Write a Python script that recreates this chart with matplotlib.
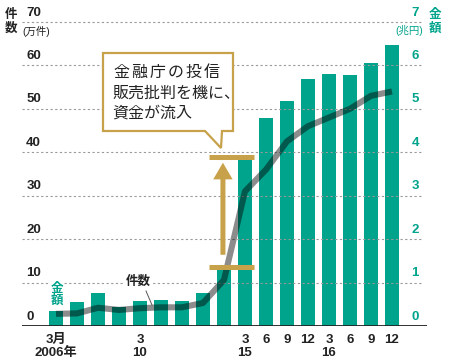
import matplotlib.pyplot as plt
import matplotlib.patches as mpatches

plt.rcParams['font.family'] = ['Liberation Sans Narrow', 'Liberation Sans', 'Noto Sans CJK JP']

# data: 投信の件数 (万件) と 金額 (兆円)
periods = ['2006/3', '2007/3', '2008/3', '2009/3', '2010/3', '2011/3', '2012/3',
           '2013/3', '2014/3', '2015/3', '2015/6', '2015/9', '2015/12',
           '2016/3', '2016/6', '2016/9', '2016/12']
tick_labels = ['3月\n2006年', '', '', '', '3\n10', '', '', '', '',
               '3\n15', '6', '9', '12', '3\n16', '6', '9', '12']
amount = [0.35, 0.56, 0.75, 0.43, 0.58, 0.60, 0.58, 0.77, 1.31,
          3.83, 4.78, 5.19, 5.69, 5.81, 5.78, 6.05, 6.46]
count = [2.8, 2.9, 4.2, 3.7, 4.1, 4.3, 4.3, 5.3, 10.6,
         31, 36, 42.5, 46, 48, 50, 53, 54]
count_ticks = [0, 10, 20, 30, 40, 50, 60, 70]
amount_ticks = [0, 1, 2, 3, 4, 5, 6, 7]

TEAL = '#00a38b'
GOLD = '#c8a24a'
DARK = '#222222'
W, H = 450, 362


def px(x, y):
    """pixel position (from top-left) -> figure fraction"""
    return x / W, 1 - y / H


fig = plt.figure(figsize=(W / 100, H / 100), dpi=100)
ax = fig.add_axes([22 / W, 36 / H, 405 / W, 304 / H])
ax2 = ax.twinx()

xs = list(range(len(periods)))

# bars (amount, right scale)
ax.bar(xs, amount, width=0.67, color=TEAL, zorder=2)
ax.set_ylim(0, 7)
ax.set_xlim(-1.62, 17.67)

# line (count, left scale)
ax2.plot(xs, count, color='black', alpha=0.45, lw=4.4,
         solid_joinstyle='round', solid_capstyle='butt', zorder=3)
ax2.set_ylim(0, 70)

for a in (ax, ax2):
    for s in a.spines.values():
        s.set_visible(False)
    a.set_yticks([])
ax.tick_params(axis='x', length=0, pad=5.5)
ax.set_xticks(xs, tick_labels, fontsize=9.5, fontweight='bold',
              color=DARK, linespacing=1.15)

# grid and baseline
for v in count_ticks[1:]:
    ax2.axhline(v, color='#9a9a9a', lw=0.8, ls=(0, (2, 2.2)), zorder=0,
                clip_on=False, xmax=0.99)
ax2.axhline(0, color=DARK, lw=1.3, zorder=4)

# tick labels placed above the gridlines
for v in count_ticks:
    ax2.annotate(str(v), xy=(0, v), xycoords=('axes fraction', 'data'),
                 xytext=(3, 2.5), textcoords='offset points',
                 ha='left', va='bottom', fontsize=9.5, fontweight='bold',
                 color=DARK)
for v in amount_ticks:
    ax.annotate(str(v), xy=(0.98, v), xycoords=('axes fraction', 'data'),
                xytext=(0, 2.5), textcoords='offset points',
                ha='right', va='bottom', fontsize=9.5, fontweight='bold',
                color=TEAL)

# axis titles
fig.text(*px(11, 22), '件\n数', ha='center', va='center', fontsize=9,
         fontweight='bold', color=DARK, linespacing=1.1)
fig.text(*px(22, 31), '(万件)', ha='left', va='center', fontsize=7.5,
         color=DARK)
fig.text(*px(435, 22), '金\n額', ha='center', va='center', fontsize=9,
         fontweight='bold', color=TEAL, linespacing=1.1)
fig.text(*px(423, 31), '(兆円)', ha='right', va='center', fontsize=7.5,
         color=TEAL)

# series labels
fig.text(*px(57, 295), '金\n額', ha='center', va='center', fontsize=9,
         fontweight='bold', color=TEAL, linespacing=1.0,
         bbox=dict(fc='white', ec='none', pad=0.5), zorder=5)
fig.text(*px(138, 282), '件数', ha='center', va='center', fontsize=9,
         fontweight='bold', color=DARK,
         bbox=dict(fc='white', ec='none', pad=0.5), zorder=5)
fig.add_artist(plt.Line2D([146 / W, 152 / W], [1 - 291 / H, 1 - 305 / H],
                          color='#555555', lw=0.7))

# callout box
pts = [(103, 53), (233, 53), (233, 131), (222, 131), (221, 148),
       (205, 131), (103, 131)]
box = mpatches.Polygon([px(x, y) for x, y in pts], closed=True,
                       transform=fig.transFigure, fc='white', ec=GOLD,
                       lw=1.6, zorder=6)
fig.add_artist(box)
# first line is letter-spaced in the original
for i, ch in enumerate('金融庁の投信'):
    fig.text(*px(113 + 18.2 * i, 72), ch, ha='left', va='center',
             fontsize=11.5, color=DARK, zorder=7)
fig.text(*px(112, 93), '販売批判を機に、', ha='left', va='center',
         fontsize=11.5, color=DARK, zorder=7)
fig.text(*px(112, 113), '資金が流入', ha='left', va='center',
         fontsize=11.5, color=DARK, zorder=7)

# bracket with arrow
ax2.plot([7.29, 9.43], [39, 39], color=GOLD, lw=3.6, zorder=5,
         solid_capstyle='butt')
ax2.plot([7.29, 9.43], [13.7, 13.7], color=GOLD, lw=3.6, zorder=5,
         solid_capstyle='butt')
arrow = mpatches.FancyArrowPatch(
    (7.95, 16.4), (7.95, 37.6),
    arrowstyle='simple,head_length=12,head_width=14,tail_width=3.6',
    mutation_scale=1, color=GOLD, lw=0, zorder=5,
    shrinkA=0, shrinkB=0)
ax2.add_patch(arrow)

fig.savefig('out.png', dpi=100)
